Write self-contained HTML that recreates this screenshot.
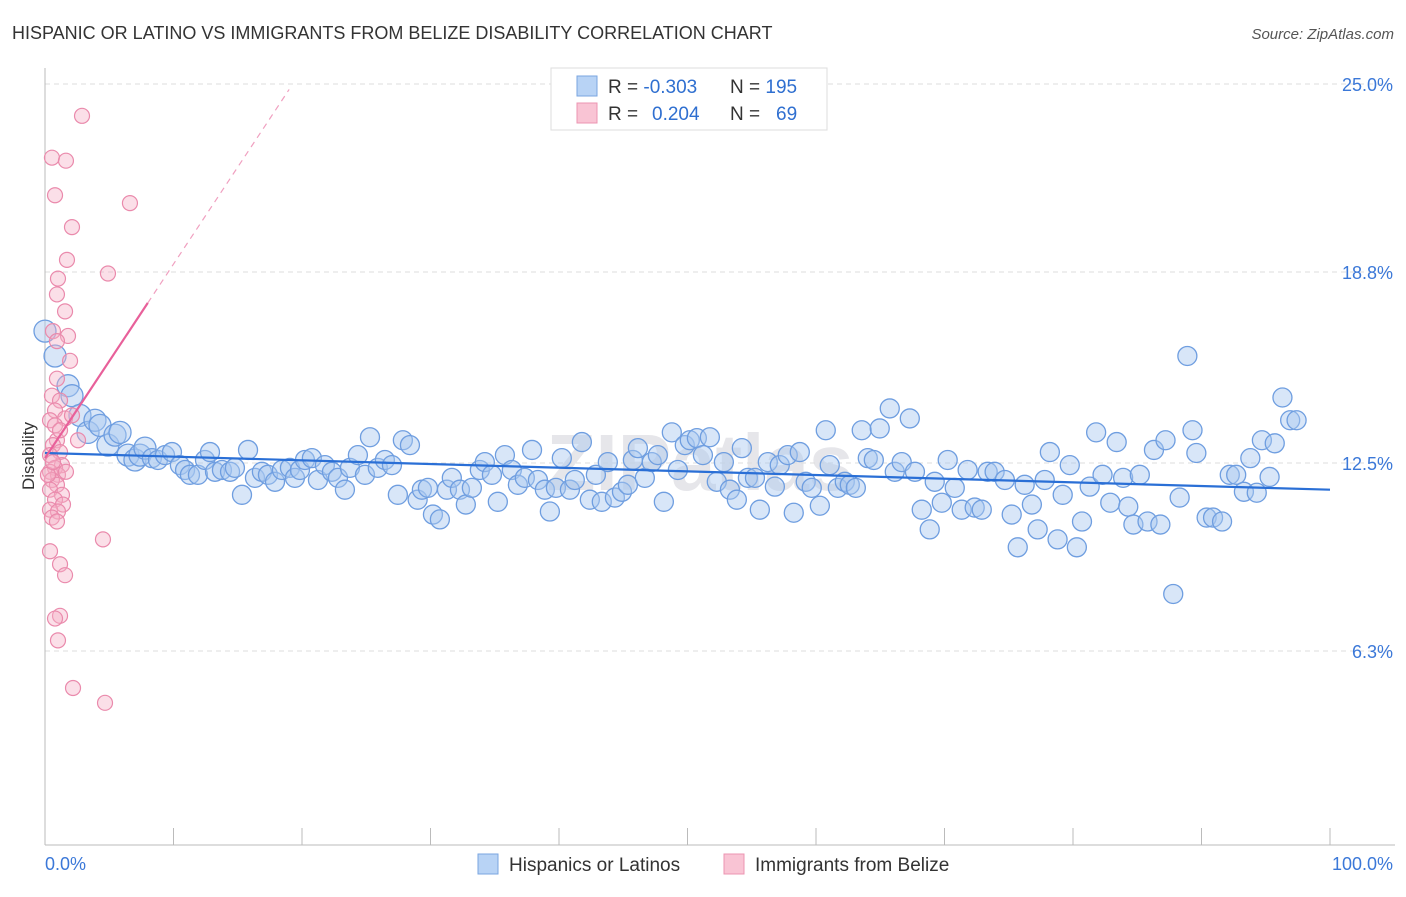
<!DOCTYPE html>
<html><head><meta charset="utf-8"><style>
body{margin:0;background:#fff;font-family:"Liberation Sans",sans-serif;}
svg text{font-family:"Liberation Sans",sans-serif;}
</style></head><body>
<svg id="chart" width="1406" height="892" viewBox="0 0 1406 892" xmlns="http://www.w3.org/2000/svg">
<text x="12" y="39" font-size="18" fill="#333">HISPANIC OR LATINO VS IMMIGRANTS FROM BELIZE DISABILITY CORRELATION CHART</text>
<text x="1394" y="39" font-size="15" fill="#555" font-style="italic" text-anchor="end">Source: ZipAtlas.com</text>
<text x="700" y="490" font-size="80" fill="#e6e6ea" text-anchor="middle" font-weight="bold" font-family="Liberation Serif">ZIPatlas</text>
<g id="grid"></g>
<g id="axes"></g>
<g id="marks"></g>
<text transform="translate(34,456) rotate(-90)" font-size="17" fill="#333" text-anchor="middle">Disability</text>
<g>
<rect x="551" y="68" width="276" height="62" fill="#fff" stroke="#ddd"/>
<rect x="577" y="76" width="20" height="20" fill="#b8d3f5" stroke="#7aa6e0"/>
<rect x="577" y="103" width="20" height="20" fill="#f9c4d4" stroke="#ec94b2"/>
<text x="608" y="93" font-size="19" fill="#333">R = <tspan fill="#2f6fd0">-0.303</tspan><tspan x="730">N = </tspan><tspan fill="#2f6fd0">195</tspan></text>
<text x="608" y="120" font-size="19" fill="#333">R = <tspan fill="#2f6fd0" x="652">0.204</tspan><tspan x="730">N = </tspan><tspan fill="#2f6fd0" x="776">69</tspan></text>
</g>
<g>
<rect x="478" y="854" width="20" height="20" fill="#b8d3f5" stroke="#7aa6e0"/>
<text x="509" y="871" font-size="19" fill="#333">Hispanics or Latinos</text>
<rect x="724" y="854" width="20" height="20" fill="#f9c4d4" stroke="#ec94b2"/>
<text x="755" y="871" font-size="19" fill="#333">Immigrants from Belize</text>
</g>
</svg>
<script>
const yTicks=[25.0,18.8,12.5,6.3];
const yTickLabels=["25.0%","18.8%","12.5%","6.3%"];
const xTicks=[0,10,20,30,40,50,60,70,80,90,100];
const blueX=[0,.78,1.79,2.1,2.72,3.35,3.89,4.28,4.9,5.45,5.84,6.46,7,7.39,7.78,8.32,8.79,9.34,9.88,10.5,10.9,11.28,11.9,12.45,12.84,13.23,13.77,14.4,14.78,15.33,15.8,16.34,16.88,17.35,17.9,18.44,19.06,19.45,19.84,20.23,20.77,21.24,21.78,22.33,22.8,23.34,23.73,24.35,24.9,25.29,25.9,26.45,27,27.46,27.85,28.4,29,29.33,29.8,30.19,30.73,31.28,31.66,32.29,32.75,33.22,33.84,34.23,34.78,35.24,35.79,36.33,36.8,37.34,37.9,38.36,38.9,39.29,39.76,40.22,40.85,41.23,41.78,42.4,42.87,43.33,43.8,44.35,44.9,45.36,45.75,46.14,46.68,47.22,47.69,48.16,48.78,49.25,49.79,50.18,50.73,51.2,51.74,52.28,52.83,53.3,53.84,54.23,54.7,55.25,55.63,56.25,56.8,57.18,57.8,58.27,58.74,59.2,59.67,60.3,60.76,61.07,61.7,62.24,62.63,63.1,63.56,64.03,64.5,64.96,65.74,66.13,66.67,67.3,67.7,68.23,68.85,69.24,69.79,70.25,70.8,71.34,71.8,72.35,72.9,73.36,73.9,74.7,75.23,75.7,76.24,76.8,77.25,77.8,78.2,78.8,79.2,79.75,80.3,80.7,81.3,81.8,82.3,82.9,83.4,83.9,84.3,84.7,85.2,85.8,86.3,86.8,87.2,87.8,88.3,88.9,89.3,89.6,90.4,90.9,91.6,92.2,92.7,93.3,93.8,94.3,94.7,95.7,96.3,96.9,97.4,95.3];
const blueY=[16.85,16.03,15.05,14.72,14.07,13.51,13.91,13.74,13.09,13.42,13.51,12.76,12.6,12.76,12.99,12.66,12.6,12.76,12.86,12.43,12.27,12.11,12.11,12.6,12.86,12.21,12.27,12.21,12.34,11.45,12.93,12.01,12.21,12.11,11.88,12.27,12.34,12.01,12.27,12.6,12.66,11.94,12.43,12.21,12.01,11.62,12.34,12.76,12.11,13.35,12.34,12.6,12.43,11.45,13.25,13.09,11.29,11.62,11.68,10.8,10.64,11.62,12.01,11.62,11.13,11.68,12.27,12.53,12.11,11.22,12.76,12.27,11.78,12.01,12.93,11.94,11.62,10.9,11.68,12.66,11.62,11.94,13.19,11.29,12.11,11.22,12.53,11.36,11.55,11.78,12.6,12.99,12.01,12.53,12.76,11.22,13.51,12.27,13.09,13.25,13.32,12.76,13.35,11.88,12.53,11.62,11.29,12.99,12.01,12.01,10.96,12.53,11.72,12.43,12.76,10.86,12.86,11.88,11.68,11.09,13.58,12.43,11.68,11.88,11.78,11.68,13.58,12.66,12.6,13.64,14.3,12.21,12.53,13.97,12.21,10.96,10.31,11.88,11.19,12.6,11.68,10.96,12.27,11.03,10.96,12.21,12.21,11.94,10.8,9.72,11.78,11.13,10.31,11.94,12.86,9.98,11.45,12.43,9.72,10.57,11.72,13.51,12.11,11.19,13.19,12.01,11.06,10.47,12.11,10.57,12.93,10.47,13.25,8.18,11.36,16.03,13.58,12.83,10.7,10.7,10.57,12.11,12.11,11.55,12.66,11.52,13.25,13.15,14.66,13.91,13.91,12.04];
const pinkX=[2.88,.54,1.63,.78,6.61,2.1,1.71,4.9,1.01,.93,1.56,.62,1.79,.93,1.95,.93,.54,1.17,.78,1.56,2.1,2.57,.39,.78,.93,.62,1.17,.39,1.32,.78,.39,1.01,1.63,.54,.93,.39,1.32,.78,1.4,.39,1.01,.54,.93,4.51,.39,1.17,1.56,1.17,.78,1.01,2.18,4.67,.23,.62,1.17];
const pinkY=[23.95,22.57,22.47,21.33,21.07,20.28,19.2,18.75,18.58,18.06,17.5,16.85,16.69,16.52,15.87,15.28,14.72,14.56,14.23,13.97,14.07,13.25,13.91,13.74,13.25,13.09,12.86,12.76,12.43,12.34,12.21,12.11,12.21,11.94,11.78,11.62,11.45,11.29,11.13,10.96,10.9,10.7,10.57,9.98,9.59,9.16,8.8,7.46,7.37,6.65,5.08,4.59,12.11,12.53,13.58];
const blueTrend=[12.83,11.62];
const pinkTrend=[12.66,0.64];
const X0=45,X1=1330,Y25=84,Y125=463;
const sx=v=>X0+(X1-X0)*v/100;
const sy=v=>Y125-(v-12.5)*(Y125-Y25)/12.5;
const NS="http://www.w3.org/2000/svg";
function mk(tag,attrs,parent){const e=document.createElementNS(NS,tag);for(const k in attrs)e.setAttribute(k,attrs[k]);parent.appendChild(e);return e;}
const grid=document.getElementById('grid'),axes=document.getElementById('axes'),marks=document.getElementById('marks');
yTicks.forEach((t,i)=>{
 const l=mk('line',{x1:X0,x2:1395,y1:sy(t),y2:sy(t),stroke:'#ddd','stroke-dasharray':'5,4'},grid);
 
 
 const tx=mk('text',{x:1393,y:sy(t)+7,'font-size':18,fill:'#3b78d8','text-anchor':'end'},axes);
 tx.textContent=yTickLabels[i];
 
 
});
const ya=mk('line',{x1:X0,x2:X0,y1:68,y2:845,stroke:'#bbb'},axes);


const xa=mk('line',{x1:X0,x2:1395,y1:845,y2:845,stroke:'#bbb'},axes);


xTicks.forEach(t=>{
 const l=mk('line',{x1:sx(t),x2:sx(t),y1:828,y2:845,stroke:'#bbb'},axes);
 
 
});
const xl0=mk('text',{x:45,y:870,'font-size':18,fill:'#3b78d8'},axes);xl0.textContent='0.0%';


const xl1=mk('text',{x:1393,y:870,'font-size':18,fill:'#3b78d8','text-anchor':'end'},axes);xl1.textContent='100.0%';


blueX.forEach((x,i)=>{
 const r=(x<8)?11:9.5;
 const c=mk('circle',{cx:sx(x),cy:sy(blueY[i]),r:r,fill:'rgba(168,200,240,0.45)',stroke:'#6f9ee0','stroke-width':1.3},marks);
 
 
});
pinkX.forEach((x,i)=>{
 const c=mk('circle',{cx:sx(x),cy:sy(pinkY[i]),r:7.5,fill:'rgba(246,176,198,0.4)',stroke:'#ea8aac','stroke-width':1.2},marks);
 
 
});
const bt=mk('line',{x1:sx(0),y1:sy(blueTrend[0]),x2:sx(100),y2:sy(blueTrend[1]),stroke:'#2a6fd6','stroke-width':2.2},marks);


const pe=8,pd=19;
const pt=mk('line',{x1:sx(0),y1:sy(pinkTrend[0]),x2:sx(pe),y2:sy(pinkTrend[0]+pinkTrend[1]*pe),stroke:'#e8609a','stroke-width':2.2},marks);


const pdl=mk('line',{x1:sx(pe),y1:sy(pinkTrend[0]+pinkTrend[1]*pe),x2:sx(pd),y2:sy(pinkTrend[0]+pinkTrend[1]*pd),stroke:'#f0a0c0','stroke-width':1.2,'stroke-dasharray':'6,5'},marks);


</script>
</body></html>
